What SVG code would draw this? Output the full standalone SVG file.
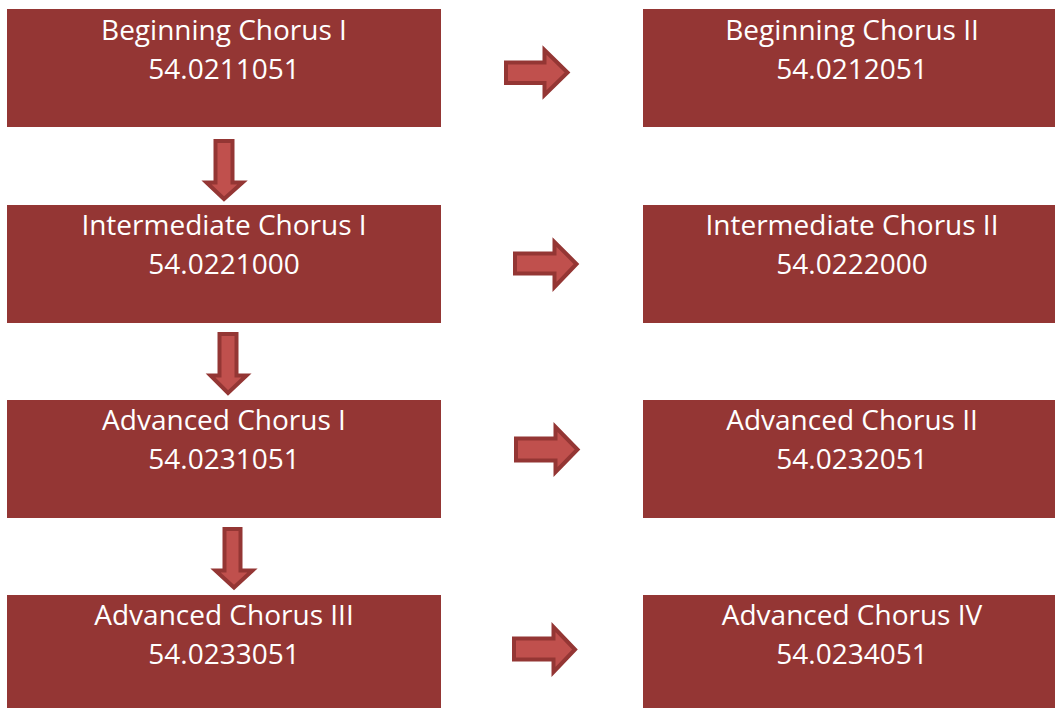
<svg xmlns="http://www.w3.org/2000/svg" width="1055" height="708" viewBox="0 0 1055 708">
  <style>
    .box { fill: #943634; }
    .lbl { font-family: "Open Sans", "Noto Sans", sans-serif; font-size: 28px; fill: #ffffff; text-anchor: middle; }
    .arrow { fill: #C0504D; stroke: #943634; stroke-width: 4; stroke-linejoin: miter; }
  </style>
  <rect width="1055" height="708" fill="#ffffff"/>

  <!-- course boxes -->
  <g id="beginning-1">
    <rect class="box" x="7" y="9" width="434" height="118"/>
    <text class="lbl" x="224" y="40">Beginning Chorus I</text>
    <text class="lbl" x="224" y="79">54.0211051</text>
  </g>
  <g id="beginning-2">
    <rect class="box" x="643" y="9" width="412" height="118"/>
    <text class="lbl" x="852" y="40">Beginning Chorus II</text>
    <text class="lbl" x="852" y="79">54.0212051</text>
  </g>
  <g id="intermediate-1">
    <rect class="box" x="7" y="205" width="434" height="118"/>
    <text class="lbl" x="224" y="235">Intermediate Chorus I</text>
    <text class="lbl" x="224" y="274">54.0221000</text>
  </g>
  <g id="intermediate-2">
    <rect class="box" x="643" y="205" width="412" height="118"/>
    <text class="lbl" x="852" y="235">Intermediate Chorus II</text>
    <text class="lbl" x="852" y="274">54.0222000</text>
  </g>
  <g id="advanced-1">
    <rect class="box" x="7" y="400" width="434" height="118"/>
    <text class="lbl" x="224" y="430">Advanced Chorus I</text>
    <text class="lbl" x="224" y="469">54.0231051</text>
  </g>
  <g id="advanced-2">
    <rect class="box" x="643" y="400" width="412" height="118"/>
    <text class="lbl" x="852" y="430">Advanced Chorus II</text>
    <text class="lbl" x="852" y="469">54.0232051</text>
  </g>
  <g id="advanced-3">
    <rect class="box" x="7" y="595" width="434" height="113"/>
    <text class="lbl" x="224" y="625">Advanced Chorus III</text>
    <text class="lbl" x="224" y="664">54.0233051</text>
  </g>
  <g id="advanced-4">
    <rect class="box" x="643" y="595" width="412" height="113"/>
    <text class="lbl" x="852" y="625">Advanced Chorus IV</text>
    <text class="lbl" x="852" y="664">54.0234051</text>
  </g>

  <!-- block arrows -->
  <g id="connectors">
    <!-- right arrows -->
    <path class="arrow" d="M506 62.5 H544.5 V50 L567.5 72.5 L544.5 95 V83 H506 Z"/>
    <path class="arrow" d="M515 253.5 H554.5 V242 L576.5 264 L554.5 287 V273.5 H515 Z"/>
    <path class="arrow" d="M516 438.5 H555.5 V427 L577.5 449.5 L555.5 472 V460.5 H516 Z"/>
    <path class="arrow" d="M514 638.5 H553.5 V627 L575 649.5 L553.5 672 V659.5 H514 Z"/>
    <!-- down arrows -->
    <path class="arrow" d="M215.5 141 H232.5 V182.5 H242.5 L224 199 L206.5 182.5 H215.5 Z"/>
    <path class="arrow" d="M219.5 334 H236.5 V375.5 H246.5 L228 393 L210.5 375.5 H219.5 Z"/>
    <path class="arrow" d="M224.5 529 H240.5 V570.5 H252.5 L234 587.5 L215.5 570.5 H224.5 Z"/>
  </g>
</svg>
